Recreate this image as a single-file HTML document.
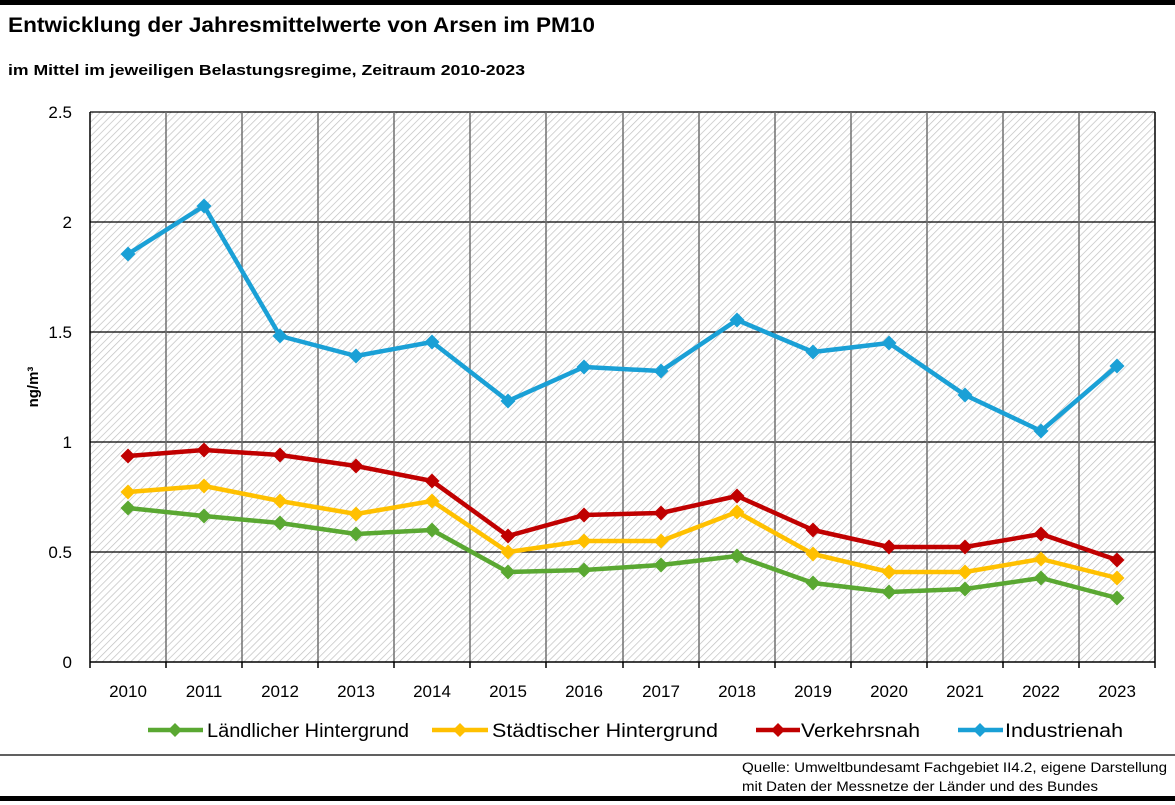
<!DOCTYPE html>
<html><head><meta charset="utf-8"><style>
html,body{margin:0;padding:0;background:#fff;}
svg{display:block;font-family:"Liberation Sans",sans-serif;}
</style></head><body>
<svg width="1175" height="805" viewBox="0 0 1175 805" xmlns="http://www.w3.org/2000/svg">
<defs>
<pattern id="h" width="5" height="5" patternUnits="userSpaceOnUse" patternTransform="rotate(45)">
<rect width="5" height="5" fill="#fff"/><line x1="0" y1="0" x2="0" y2="5" stroke="#c0c0c0" stroke-width="1.4"/>
</pattern>
<marker id="mg" viewBox="-8 -8 16 16" markerWidth="16" markerHeight="16" markerUnits="userSpaceOnUse"><path d="M0-7.5L7.5 0 0 7.5-7.5 0Z" fill="#5aa832"/></marker>
<marker id="my" viewBox="-8 -8 16 16" markerWidth="16" markerHeight="16" markerUnits="userSpaceOnUse"><path d="M0-7.5L7.5 0 0 7.5-7.5 0Z" fill="#ffc000"/></marker>
<marker id="mr" viewBox="-8 -8 16 16" markerWidth="16" markerHeight="16" markerUnits="userSpaceOnUse"><path d="M0-7.5L7.5 0 0 7.5-7.5 0Z" fill="#c00000"/></marker>
<marker id="mb" viewBox="-8 -8 16 16" markerWidth="16" markerHeight="16" markerUnits="userSpaceOnUse"><path d="M0-7.5L7.5 0 0 7.5-7.5 0Z" fill="#1aa0d6"/></marker>
</defs>
<rect x="0" y="0" width="1175" height="5" fill="#000"/>
<rect x="0" y="796" width="1175" height="5" fill="#000"/>
<line x1="0" y1="755" x2="1175" y2="755" stroke="#000" stroke-width="1.2"/>
<text x="8" y="32" font-size="21" font-weight="bold" textLength="587" lengthAdjust="spacingAndGlyphs">Entwicklung der Jahresmittelwerte von Arsen im PM10</text>
<text x="8" y="75" font-size="15" font-weight="bold" textLength="517" lengthAdjust="spacingAndGlyphs">im Mittel im jeweiligen Belastungsregime, Zeitraum 2010-2023</text>
<rect x="90" y="112" width="1065" height="550" fill="url(#h)"/>
<g stroke="#000" stroke-width="1.2">
<line x1="90" y1="112" x2="1155" y2="112"/><line x1="90" y1="222" x2="1155" y2="222"/><line x1="90" y1="332" x2="1155" y2="332"/><line x1="90" y1="442" x2="1155" y2="442"/><line x1="90" y1="552" x2="1155" y2="552"/>
</g>
<g stroke="#707070" stroke-width="1.5">
<line x1="166" y1="112" x2="166" y2="662"/><line x1="242" y1="112" x2="242" y2="662"/><line x1="318" y1="112" x2="318" y2="662"/><line x1="394" y1="112" x2="394" y2="662"/><line x1="470" y1="112" x2="470" y2="662"/><line x1="546" y1="112" x2="546" y2="662"/><line x1="623" y1="112" x2="623" y2="662"/><line x1="699" y1="112" x2="699" y2="662"/><line x1="775" y1="112" x2="775" y2="662"/><line x1="851" y1="112" x2="851" y2="662"/><line x1="927" y1="112" x2="927" y2="662"/><line x1="1003" y1="112" x2="1003" y2="662"/><line x1="1079" y1="112" x2="1079" y2="662"/>
</g>
<g stroke="#000" stroke-width="1.5">
<line x1="90" y1="112" x2="90" y2="668"/><line x1="1155" y1="112" x2="1155" y2="668"/><line x1="90" y1="662" x2="1155" y2="662"/>
<line x1="166" y1="662" x2="166" y2="668"/><line x1="242" y1="662" x2="242" y2="668"/><line x1="318" y1="662" x2="318" y2="668"/><line x1="394" y1="662" x2="394" y2="668"/><line x1="470" y1="662" x2="470" y2="668"/><line x1="546" y1="662" x2="546" y2="668"/><line x1="623" y1="662" x2="623" y2="668"/><line x1="699" y1="662" x2="699" y2="668"/><line x1="775" y1="662" x2="775" y2="668"/><line x1="851" y1="662" x2="851" y2="668"/><line x1="927" y1="662" x2="927" y2="668"/><line x1="1003" y1="662" x2="1003" y2="668"/><line x1="1079" y1="662" x2="1079" y2="668"/>
</g>
<g font-size="17" text-anchor="end">
<text x="72" y="118">2.5</text><text x="72" y="228">2</text><text x="72" y="338">1.5</text><text x="72" y="448">1</text><text x="72" y="558">0.5</text><text x="72" y="668">0</text>
</g>
<text transform="translate(38,387) rotate(-90)" font-size="15" font-weight="bold" text-anchor="middle">ng/m³</text>
<g font-size="17" text-anchor="middle">
<text x="128" y="697">2010</text><text x="204" y="697">2011</text><text x="280" y="697">2012</text><text x="356" y="697">2013</text><text x="432" y="697">2014</text><text x="508" y="697">2015</text><text x="584" y="697">2016</text><text x="661" y="697">2017</text><text x="737" y="697">2018</text><text x="813" y="697">2019</text><text x="889" y="697">2020</text><text x="965" y="697">2021</text><text x="1041" y="697">2022</text><text x="1117" y="697">2023</text>
</g>
<g fill="none" stroke-width="4.5" stroke-linejoin="round">
<polyline stroke="#5aa832" marker-start="url(#mg)" marker-mid="url(#mg)" marker-end="url(#mg)" points="128,508 204,516 280,523 356,534 432,530 508,572 584,570 661,565 737,556 813,583 889,592 965,589 1041,578 1117,598"/>
<polyline stroke="#ffc000" marker-start="url(#my)" marker-mid="url(#my)" marker-end="url(#my)" points="128,492 204,486 280,501 356,514 432,501 508,552 584,541 661,541 737,512 813,554 889,572 965,572 1041,559 1117,578"/>
<polyline stroke="#c00000" marker-start="url(#mr)" marker-mid="url(#mr)" marker-end="url(#mr)" points="128,456 204,450 280,455 356,466 432,481 508,536 584,515 661,513 737,496 813,530 889,547 965,547 1041,534 1117,560"/>
<polyline stroke="#1aa0d6" marker-start="url(#mb)" marker-mid="url(#mb)" marker-end="url(#mb)" points="128,254 204,206 280,336 356,356 432,342 508,401 584,367 661,371 737,320 813,352 889,343 965,395 1041,431 1117,366"/>
</g>
<g stroke-width="4.5">
<line x1="148" y1="730" x2="203" y2="730" stroke="#5aa832"/>
<line x1="432" y1="730" x2="488" y2="730" stroke="#ffc000"/>
<line x1="756" y1="730" x2="800" y2="730" stroke="#c00000"/>
<line x1="958" y1="730" x2="1003" y2="730" stroke="#1aa0d6"/>
</g>
<path d="M175 723l7 7-7 7-7-7z" fill="#5aa832"/>
<path d="M460 723l7 7-7 7-7-7z" fill="#ffc000"/>
<path d="M778 723l7 7-7 7-7-7z" fill="#c00000"/>
<path d="M980 723l7 7-7 7-7-7z" fill="#1aa0d6"/>
<g font-size="19">
<text x="207" y="737" textLength="202" lengthAdjust="spacingAndGlyphs">Ländlicher Hintergrund</text>
<text x="492" y="737" textLength="226" lengthAdjust="spacingAndGlyphs">Städtischer Hintergrund</text>
<text x="801" y="737" textLength="119" lengthAdjust="spacingAndGlyphs">Verkehrsnah</text>
<text x="1005" y="737" textLength="118" lengthAdjust="spacingAndGlyphs">Industrienah</text>
</g>
<g font-size="13.5">
<text x="742" y="772" textLength="425" lengthAdjust="spacingAndGlyphs">Quelle: Umweltbundesamt Fachgebiet II4.2, eigene Darstellung</text>
<text x="742" y="791" textLength="356" lengthAdjust="spacingAndGlyphs">mit Daten der Messnetze der Länder und des Bundes</text>
</g>
</svg>
</body></html>
